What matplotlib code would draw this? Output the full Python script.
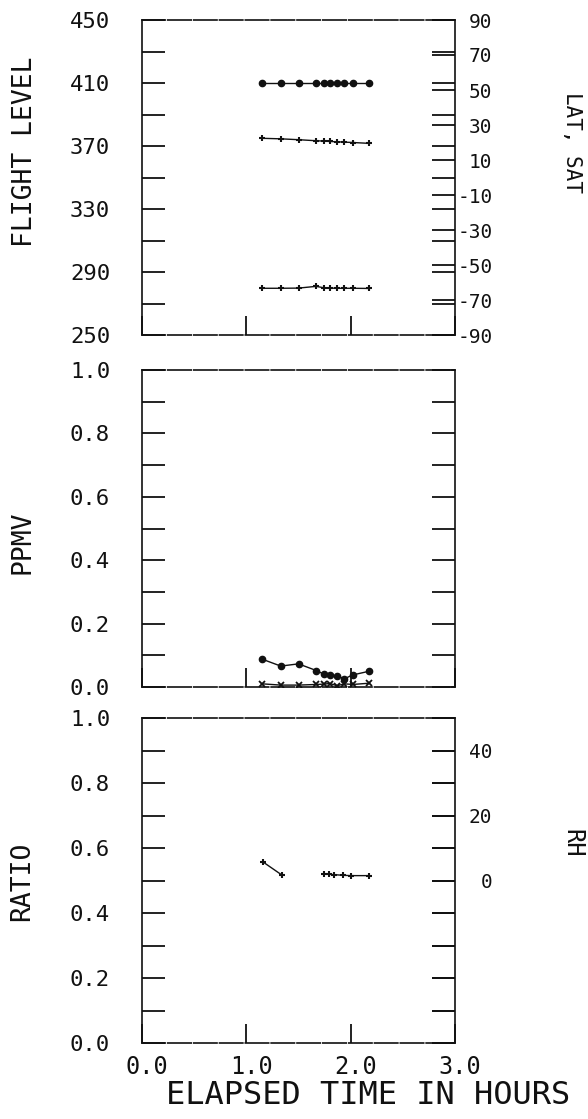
import numpy as np
import matplotlib
matplotlib.use('Agg')
import matplotlib.pyplot as plt
from matplotlib.transforms import ScaledTranslation

plt.rcParams['font.family'] = ['DejaVu Sans Mono']

# elapsed time (hours) of the observations
time_h = [1.15, 1.33, 1.50, 1.67, 1.74, 1.80, 1.87, 1.94, 2.02, 2.18]

# panel 1: flight level (left), latitude and SAT (right)
flight_level = [410, 410, 410, 410, 410, 410, 410, 410, 410, 410]
latitude = [22.4, 22.1, 21.6, 21.0, 20.8, 20.6, 20.4, 20.2, 20.0, 19.5]
sat = [-63.3, -63.3, -63.2, -62.2, -63.0, -63.2, -63.3, -63.3, -63.3, -63.4]

# panel 2: PPMV, two series
ppmv_a = [0.088, 0.066, 0.073, 0.052, 0.041, 0.038, 0.035, 0.026, 0.038, 0.050]
ppmv_b = [0.010, 0.006, 0.006, 0.008, 0.009, 0.011, 0.004, 0.010, 0.008, 0.012]

# panel 3: ratio (gap between the two segments)
ratio_t = [1.16, 1.34, np.nan, 1.745, 1.79, 1.84, 1.93, 2.00, 2.18]
ratio = [0.557, 0.517, np.nan, 0.520, 0.519, 0.518, 0.516, 0.515, 0.515]

# axis ticks and labels
x_ticks = [0.0, 1.0, 2.0, 3.0]
x_labels = ['0.0', '1.0', '2.0', '3.0']
fl_ticks = list(range(250, 451, 20))
fl_labels = ['250', '', '290', '', '330', '', '370', '', '410', '', '450']
lat_ticks = list(range(-90, 91, 20))
lat_labels = ['-90', '-70', '-50', '-30', '-10', '10', '30', '50', '70', '90']
frac_ticks = [i / 10 for i in range(11)]
frac_labels = ['0.0', '', '0.2', '', '0.4', '', '0.6', '', '0.8', '', '1.0']
rh_ticks = list(range(-50, 51, 10))
rh_labels = ['', '', '', '', '', '0', '', '20', '', '40', '']

W, H = 588, 1119
fig = plt.figure(figsize=(W / 100, H / 100), dpi=100)
ink = '#111111'
left, right = 142, 455


def make_axes(top, bottom):
    return fig.add_axes([left / W, 1 - bottom / H, (right - left) / W, (bottom - top) / H])


def style(ax, show_xlabels=False):
    ax.set_xlim(0, 3)
    ax.set_xticks(x_ticks)
    ax.yaxis.set_ticks_position('both')
    ax.tick_params(axis='x', direction='in', length=14, width=1.3, color=ink,
                   labelbottom=show_xlabels, labelsize=17, labelcolor=ink, pad=9)
    ax.tick_params(axis='y', direction='in', length=16.5, width=1.3, color=ink,
                   left=True, right=True, labelleft=True, labelright=False,
                   labelsize=16, labelcolor=ink, pad=23)
    for side, sp in ax.spines.items():
        sp.set_color(ink)
        sp.set_linewidth(1.2)
        if side in ('top', 'bottom'):
            sp.set_linestyle((0, (14, 1.5)))
    if show_xlabels:
        ax.set_xticklabels(x_labels)
        for lbl in ax.get_xticklabels():
            lbl.set_transform(lbl.get_transform() + ScaledTranslation(5 / 100, 0, fig.dpi_scale_trans))


def style_right(axr):
    axr.tick_params(axis='y', direction='in', length=16.5, width=1.3, color=ink,
                    labelsize=14, labelcolor=ink, pad=27)
    for lbl in axr.get_yticklabels():
        lbl.set_ha('right')
    for sp in axr.spines.values():
        sp.set_visible(False)


# panel 1
ax1 = make_axes(20, 335)
ax1r = ax1.twinx()
ax1.plot(time_h, flight_level, '-o', color=ink, lw=1.0, ms=4.5)
ax1.set_ylim(250, 450)
ax1.set_yticks(fl_ticks)
ax1.set_yticklabels(fl_labels)
style(ax1)
ax1r.plot(time_h, latitude, '-+', color=ink, lw=1.0, ms=5, mew=1.5)
ax1r.plot(time_h, sat, '-+', color=ink, lw=1.0, ms=5, mew=1.5)
ax1r.set_ylim(-90, 90)
ax1r.set_yticks(lat_ticks)
ax1r.set_yticklabels(lat_labels)
style_right(ax1r)

# panel 2
ax2 = make_axes(370, 687)
ax2.plot(time_h, ppmv_a, '-o', color=ink, lw=1.0, ms=4.5)
ax2.plot(time_h, ppmv_b, '-x', color=ink, lw=1.0, ms=4, mew=1.3)
ax2.set_ylim(0, 1)
ax2.set_yticks(frac_ticks)
ax2.set_yticklabels(frac_labels)
style(ax2)

# panel 3
ax3 = make_axes(718, 1043)
ax3r = ax3.twinx()
ax3.plot(ratio_t, ratio, '-+', color=ink, lw=1.0, ms=5, mew=1.5)
ax3.set_ylim(0, 1)
ax3.set_yticks(frac_ticks)
ax3.set_yticklabels(frac_labels)
style(ax3, show_xlabels=True)
ax3r.set_ylim(-50, 50)
ax3r.set_yticks(rh_ticks)
ax3r.set_yticklabels(rh_labels)
style_right(ax3r)

# axis titles
fig.text(25 / W, 1 - 152 / H, 'FLIGHT LEVEL', rotation=90, ha='center', va='center',
         fontsize=19, color=ink)
fig.text(22 / W, 1 - 542 / H, 'PPMV', rotation=90, ha='center', va='center',
         fontsize=19, color=ink)
fig.text(22 / W, 1 - 881 / H, 'RATIO', rotation=90, ha='center', va='center',
         fontsize=19, color=ink)
fig.text(572 / W, 1 - 142 / H, 'LAT, SAT', rotation=270, ha='center', va='center',
         fontsize=15, color=ink)
fig.text(572 / W, 1 - 843 / H, 'RH', rotation=270, ha='center', va='center',
         fontsize=17, color=ink)
fig.text(368 / W, 1 - 1095 / H, 'ELAPSED TIME IN HOURS', ha='center', va='center',
         fontsize=23, color=ink)

fig.savefig('out.png', dpi=100)
